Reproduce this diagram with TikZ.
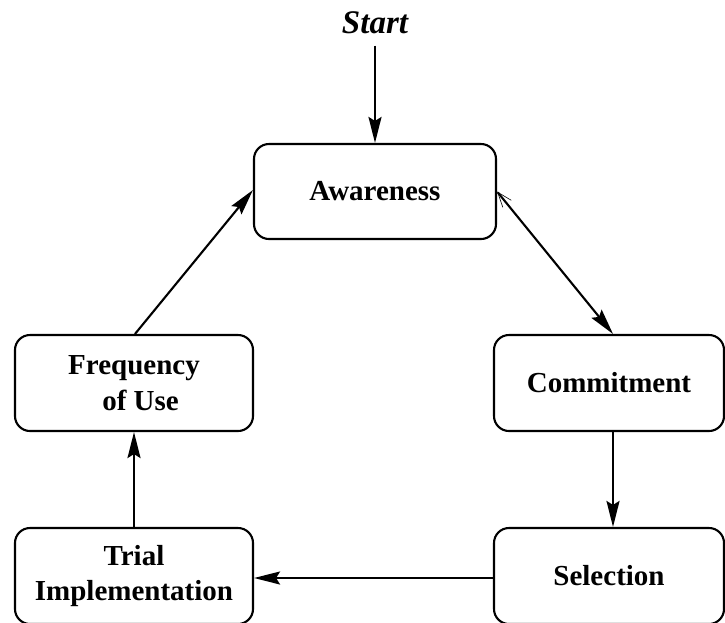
\documentclass[tikz,border=0pt]{standalone}
\usepackage{fontspec}
\setmainfont{Liberation Serif}
\usetikzlibrary{arrows.meta}
\begin{document}
\begin{tikzpicture}[x=1pt,y=-1pt,
  stage/.style={draw,line width=2.1pt,rounded corners=15pt,align=center,
    font=\fontsize{29}{35.5}\selectfont\bfseries,inner sep=0pt},
  flow/.style={line width=2.1pt,-{Stealth[length=26pt,width=13pt,inset=4pt]}},
  twoway/.style={line width=2.1pt,
    {Straight Barb[length=15pt,width=11pt,line width=0.6pt]}-{Stealth[length=26pt,width=13pt,inset=4pt]}}]
  \useasboundingbox (0,0) rectangle (725,622);
  \node[stage,minimum width=242pt,minimum height=95pt] (aware) at (375,191.5) {Awareness};
  \node[stage,minimum width=238pt,minimum height=96pt] (freq) at (134,383) {Frequency\\\hspace{0.45em}of Use};
  \node[stage,minimum width=230pt,minimum height=96pt] (commit) at (609,383) {Commitment};
  \node[stage,minimum width=238pt,minimum height=96pt] (trial) at (134,576) {Trial\\Implementation};
  \node[stage,minimum width=230pt,minimum height=96pt] (select) at (609,576) {Selection};
  \node[anchor=base,inner sep=12pt,font=\fontsize{33}{40}\selectfont\bfseries\itshape] (start) at (375,33) {Start};
  \coordinate (cin) at ([xshift=4pt]commit.north);
  \coordinate (cout) at ([xshift=4pt]commit.south);
  \coordinate (sin) at ([xshift=4pt]select.north);
  \draw[flow] (start.south) -- (aware.north);
  \draw[twoway] (aware.east) -- (cin);
  \draw[flow] (cout) -- (sin);
  \draw[flow] ([yshift=-2pt]select.west) -- ([yshift=-2pt]trial.east);
  \draw[flow] (trial.north) -- (freq.south);
  \draw[flow] ([xshift=1pt]freq.north) -- ([yshift=1.5pt]aware.west);
\end{tikzpicture}
\end{document}
